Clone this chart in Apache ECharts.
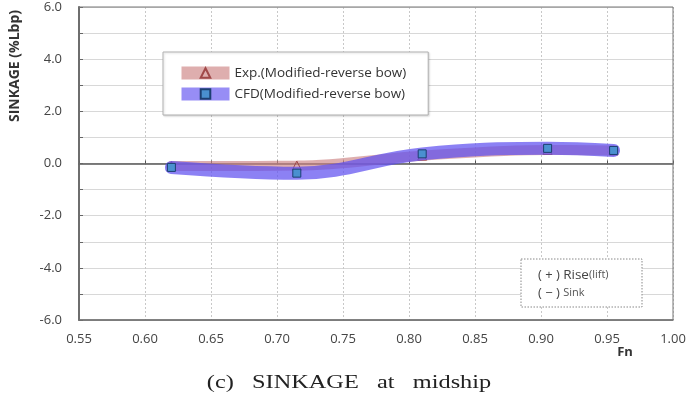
<!DOCTYPE html>
<html>
<head>
<meta charset="utf-8">
<script src="https://cdn.jsdelivr.net/npm/echarts@6/dist/echarts.min.js"></script>
<style>
  html, body { margin: 0; padding: 0; background: #fff; }
  #main { width: 686px; height: 400px; }
</style>
</head>
<body>
<div id="main"></div>
<script>
// Fn values and sinkage readings (%Lbp)
var fnExp = [0.62, 0.715, 0.81, 0.905, 0.955];
var sinkExp = [-0.1, -0.08, 0.3, 0.52, 0.5];
var fnCfd = [0.62, 0.715, 0.81, 0.905, 0.955];
var sinkCfd = [-0.15, -0.37, 0.37, 0.58, 0.5];
var yTickLabels = ['-6.0', '-4.0', '-2.0', '0.0', '2.0', '4.0', '6.0'];

function pairs(xs, ys) {
  var out = [];
  for (var i = 0; i < xs.length; i++) out.push([xs[i], ys[i]]);
  return out;
}

var chart = echarts.init(document.getElementById('main'));
var font = '"Open Sans", "Liberation Sans", sans-serif';

var option = {
  animation: false,
  textStyle: { fontFamily: font },
  grid: { left: 79, right: 13, top: 7, bottom: 80, show: false, containLabel: false, outerBoundsMode: 'none' },
  legend: {
    left: 163,
    top: 52,
    orient: 'vertical',
    padding: [14, 22, 14, 12],
    itemGap: 7,
    itemWidth: 48,
    itemHeight: 12,
    borderColor: '#b0b0b0',
    borderWidth: 1,
    backgroundColor: '#fff',
    shadowColor: 'rgba(0,0,0,0.15)',
    shadowBlur: 2,
    shadowOffsetX: 1,
    shadowOffsetY: 1,
    textStyle: { fontFamily: font, fontSize: 13.5, color: '#333', padding: [0, 0, 0, 0] },
    data: [{
      name: 'Exp.(Modified-reverse bow)',
      lineStyle: { width: 13, cap: 'butt', color: 'rgba(205,130,130,0.65)' }
    }, {
      name: 'CFD(Modified-reverse bow)',
      lineStyle: { width: 13, cap: 'butt', color: 'rgba(95,80,240,0.65)' }
    }]
  },
  xAxis: [{
    type: 'value',
    min: 0.55, max: 1.0, interval: 0.05,
    position: 'bottom',
    axisLine: { onZero: false, lineStyle: { color: '#666', width: 1.5 } },
    axisTick: { show: false },
    axisLabel: { fontSize: 13, color: '#444', margin: 13, formatter: function (v) { return v.toFixed(2); } },
    splitLine: { show: true, lineStyle: { color: '#c8c8c8', type: [2, 2] } }
  }, {
    type: 'value',
    min: 0.55, max: 1.0, interval: 0.05,
    position: 'bottom',
    axisLine: { onZero: true, lineStyle: { color: '#555', width: 1.5 } },
    axisTick: { show: true, inside: true, length: 3, lineStyle: { color: '#555' } },
    axisLabel: { show: false },
    splitLine: { show: false }
  }],
  yAxis: [{
    type: 'value',
    min: -6, max: 6, interval: 1,
    axisLine: { show: true, lineStyle: { color: '#666', width: 2 } },
    axisTick: { show: true, inside: true, length: 4, lineStyle: { color: '#666' } },
    axisLabel: {
      fontSize: 13, color: '#444', margin: 17,
      formatter: function (v) {
        var s = v.toFixed(1);
        return yTickLabels.indexOf(s) >= 0 ? s : '';
      }
    },
    splitLine: { show: true, lineStyle: { color: '#d8d8d8' } }
  }],
  graphic: [{
    type: 'rect',
    shape: { x: 79, y: 7, width: 594, height: 313 },
    style: { fill: 'none', stroke: '#777', lineWidth: 1 },
    silent: true,
    z: 1
  }, {
    type: 'text',
    x: 15, y: 66,
    rotation: Math.PI / 2,
    style: { text: 'SINKAGE (%Lbp)', font: 'bold 14px ' + font, fill: '#333', align: 'center', verticalAlign: 'middle' }
  }, {
    type: 'text',
    x: 625, y: 352,
    style: { text: 'Fn', font: 'bold 13px ' + font, fill: '#333', align: 'center', verticalAlign: 'middle' }
  }, {
    type: 'text',
    x: 349, y: 383,
    scaleX: 1.28,
    style: { text: '(c)   SINKAGE   at   midship', font: '19px "Liberation Serif", "DejaVu Serif", serif', fill: '#222', align: 'center', verticalAlign: 'middle' }
  }, {
    type: 'rect',
    shape: { x: 521, y: 259, width: 121, height: 48 },
    style: { fill: '#fff', stroke: '#888', lineWidth: 1, lineDash: [1.5, 1.5] },
    z: 10
  }, {
    type: 'text',
    x: 538, y: 275,
    style: {
      text: '{p|( + )} {b|Rise}{s|(lift)}',
      verticalAlign: 'middle',
      rich: {
        p: { font: '13px ' + font, fill: '#444' },
        b: { font: '13.5px ' + font, fill: '#444' },
        s: { font: '11px ' + font, fill: '#555' }
      }
    },
    z: 11
  }, {
    type: 'text',
    x: 538, y: 293,
    style: {
      text: '{p|( − )} {s|Sink}',
      verticalAlign: 'middle',
      rich: {
        p: { font: '13px ' + font, fill: '#444' },
        s: { font: '11px ' + font, fill: '#555' }
      }
    },
    z: 11
  }],
  series: [{
    name: 'Exp.(Modified-reverse bow)',
    type: 'line',
    smooth: 0.4,
    data: pairs(fnExp, sinkExp),
    symbol: 'triangle',
    symbolSize: 9,
    itemStyle: { color: 'rgba(255,255,255,0)', borderColor: '#a04848', borderWidth: 1 },
    lineStyle: { color: 'rgba(205,130,130,0.65)', width: 10, cap: 'round' },
    z: 3
  }, {
    name: 'CFD(Modified-reverse bow)',
    type: 'line',
    smooth: 0.4,
    data: pairs(fnCfd, sinkCfd),
    symbol: 'rect',
    symbolSize: 8,
    itemStyle: { color: '#4a90d0', borderColor: '#1d3f72', borderWidth: 1 },
    lineStyle: { color: 'rgba(95,80,240,0.72)', width: 13, cap: 'round' },
    z: 4
  }]
};

chart.setOption(option);
</script>
</body>
</html>
